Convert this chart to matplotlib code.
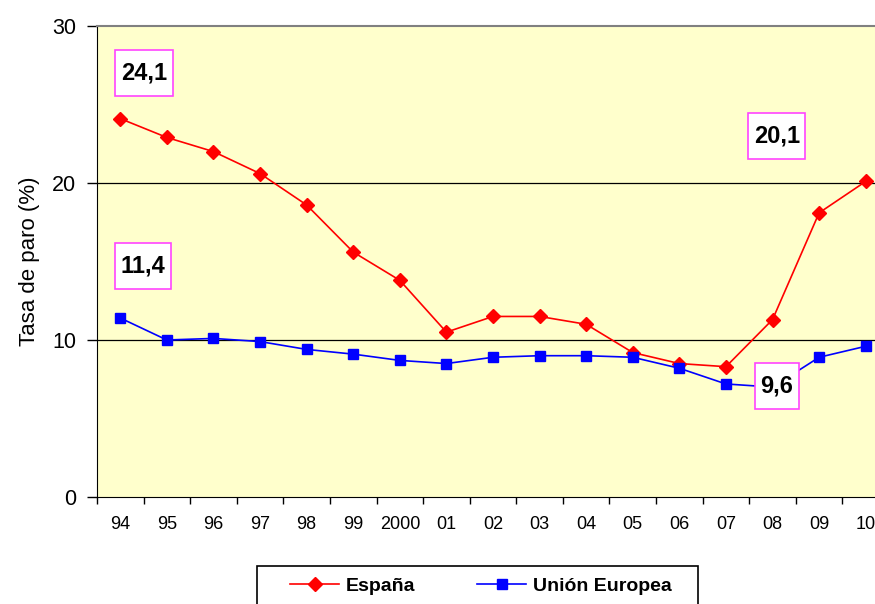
import matplotlib
matplotlib.use("Agg")
import matplotlib.pyplot as plt
from matplotlib.lines import Line2D
from matplotlib.patches import Rectangle
from matplotlib.path import Path

plt.rcParams['font.family'] = ['Liberation Sans', 'DejaVu Sans']

years = ["94", "95", "96", "97", "98", "99", "2000", "01", "02", "03", "04",
         "05", "06", "07", "08", "09", "10"]
espana = [24.1, 22.9, 22.0, 20.6, 18.6, 15.6, 13.8, 10.5, 11.5, 11.5, 11.0,
          9.2, 8.5, 8.3, 11.3, 18.1, 20.1]
ue = [11.4, 10.0, 10.1, 9.9, 9.4, 9.1, 8.7, 8.5, 8.9, 9.0, 9.0,
      8.9, 8.2, 7.2, 7.0, 8.9, 9.6]
labels = ["24,1", "11,4", "20,1", "9,6"]
label_pos = [(0.51, 27.0), (0.48, 14.7), (14.09, 23.0), (14.09, 7.05)]


def box_style(x0, y0, width, height, mutation_size):
    px = 0.24 * mutation_size
    py = 0.48 * mutation_size
    x0, y0 = x0 - px, y0 - py
    x1, y1 = x0 + width + 2 * px, y0 + height + 2 * py
    return Path([(x0, y0), (x1, y0), (x1, y1), (x0, y1), (x0, y0)], closed=True)


W, H = 875, 604
fig = plt.figure(figsize=(W / 100, H / 100), dpi=100)
fig.patch.set_facecolor('white')

left, right, top, bottom = 97, 889, 26, 497
ax = fig.add_axes([left / W, 1 - bottom / H, (right - left) / W, (bottom - top) / H])
ax.set_facecolor('#FFFFCC')

x = list(range(len(years)))
ax.plot(x, espana, color='#FF0000', lw=1.2, marker='D', ms=7.2,
        mfc='#FF0000', mec='#FF0000', zorder=3, clip_on=False)
ax.plot(x, ue, color='#0000FF', lw=1.2, marker='s', ms=7.5,
        mfc='#0000FF', mec='#0000FF', zorder=3, clip_on=False)

ax.set_xlim(-0.5, len(years) - 0.5)
ax.set_ylim(0, 30)
ax.set_yticks([0, 10, 20, 30])
ax.set_yticklabels(['0', '10', '20', '30'], fontsize=15.5)
ax.set_xticks([i - 0.5 for i in range(len(years) + 1)])
ax.set_xticklabels([])
ax.set_xticks(x, minor=True)
ax.set_xticklabels(years, minor=True, fontsize=13)
ax.tick_params(axis='x', which='major', direction='out', length=5, width=1, color='black')
ax.tick_params(axis='x', which='minor', length=0, pad=14)
ax.tick_params(axis='y', direction='out', length=7, width=1, pad=8, color='black')

for yv in [10, 20]:
    ax.axhline(yv, color='black', lw=0.9, zorder=1)

ax.spines['top'].set_color('#808080')
ax.spines['top'].set_linewidth(1.5)
ax.spines['right'].set_visible(False)
ax.spines['left'].set_color('black')
ax.spines['bottom'].set_color('black')

ax.set_ylabel('Tasa de paro (%)', fontsize=16, labelpad=9)

for txt, (px, py) in zip(labels, label_pos):
    ax.text(px, py, txt, fontsize=17, fontweight='bold', ha='center', va='center',
            zorder=5,
            bbox=dict(boxstyle=box_style, fc='white', ec='#FF44FF', lw=1.2))

# legend
fig.patches.append(Rectangle((257 / W, 1 - 612 / H), (698 - 257) / W, (612 - 566) / H,
                             transform=fig.transFigure, fc='white', ec='black', lw=1.2,
                             zorder=0))
handles = [Line2D([], [], color='#FF0000', lw=1.2, marker='D', ms=7.2),
           Line2D([], [], color='#0000FF', lw=1.2, marker='s', ms=7.5)]
leg = fig.legend(handles, ['España', 'Unión Europea'], loc='center',
                 bbox_to_anchor=(481 / W, 1 - 586 / H), ncol=2, frameon=False,
                 prop=dict(size=14, weight='bold'), handlelength=2.5,
                 handletextpad=0.35, columnspacing=3.2, borderpad=0.2)

fig.savefig('out.png', dpi=100)
